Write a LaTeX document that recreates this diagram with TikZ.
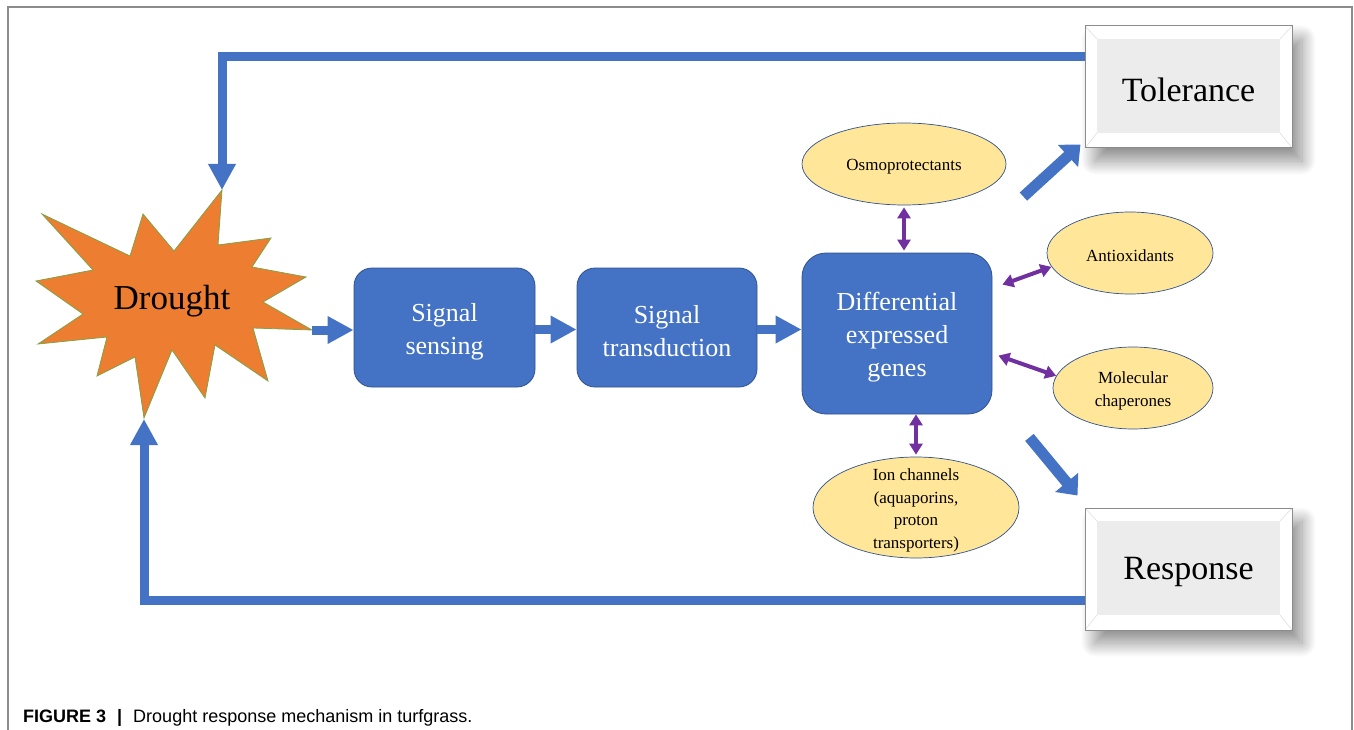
\documentclass[tikz,border=0pt]{standalone}
\usepackage{fontspec}
\setmainfont{Liberation Serif}
\newfontfamily\capfont{Liberation Sans}
\usetikzlibrary{arrows.meta,shadows.blur,calc,shapes.geometric}
\definecolor{dblue}{HTML}{4472C4}
\definecolor{dborder}{HTML}{2F528F}
\definecolor{dorange}{HTML}{ED7D31}
\definecolor{dgreen}{HTML}{7FA347}
\definecolor{dyellow}{HTML}{FFE699}
\definecolor{dpurple}{HTML}{7030A0}
\definecolor{dgray}{HTML}{ECECEC}
\definecolor{frame}{HTML}{8C8C8C}
\begin{document}
\begin{tikzpicture}[x=1pt,y=-1pt,
  box/.style={rounded corners=18pt, fill=dblue, draw=dborder, line width=0.8pt, inner sep=0pt},
  boxtext/.style={text=white, font=\fontsize{26}{33}\selectfont, align=center, yshift=-4pt},
  ell/.style={ellipse, fill=dyellow, draw=dborder, line width=0.7pt, inner sep=0pt},
  elltext/.style={font=\fontsize{17}{22.5}\selectfont, align=center, yshift=-3pt},
  blockarrow/.style={draw=dblue, line width=9pt, line join=miter,
    -{Triangle[width=26pt,length=26pt]}},
  diagarrow/.style={draw=dblue, line width=11pt,
    -{Triangle[width=29pt,length=17pt]}},
  dbl/.style={draw=dpurple, line width=4pt,
    {Triangle[width=13pt,length=11pt]}-{Triangle[width=13pt,length=11pt]}},
  bevelbox/.style={draw=frame, fill=white, line width=1pt, inner sep=0pt,
    minimum width=207pt, minimum height=122pt,
    blur shadow={shadow xshift=10pt, shadow yshift=-13pt, shadow blur radius=14pt,
      shadow blur steps=30, shadow opacity=45},
    path picture={
      \coordinate (pnw) at (path picture bounding box.north west);
      \coordinate (pse) at (path picture bounding box.south east);
      \coordinate (pne) at (path picture bounding box.north east);
      \coordinate (psw) at (path picture bounding box.south west);
      \fill[dgray] ($(pnw)+(12,13)$) rectangle ($(pse)+(-12,-15)$);
      \draw[black!12, line width=0.6pt] (pnw) -- ($(pnw)+(12,13)$)
        (pne) -- ($(pne)+(-12,13)$) (pse) -- ($(pse)+(-12,-15)$) (psw) -- ($(psw)+(12,-15)$);
    }},
  beveltext/.style={font=\fontsize{34}{40}\selectfont, yshift=-3pt},
]
\useasboundingbox (0,0) rectangle (1354,730);
\draw[frame, line width=1.2pt] (8,730) -- (8,7) -- (1352,7) -- (1352,730);

% Drought star
\fill[dorange, draw=dgreen, line width=0.8pt, line join=miter]
  (42,214) -- (130,256) -- (143,214) -- (174,251) -- (222,190) -- (218,245)
  -- (271,238) -- (252,267) -- (306,277) -- (263,302) -- (312,330) -- (253,328)
  -- (268,381) -- (215,345) -- (205,398) -- (172,350) -- (144,418) -- (135,357)
  -- (97,376) -- (107,337) -- (38,344) -- (83,314) -- (36,281) -- (93,270) -- cycle;
\coordinate (dtop) at (222,190);
\coordinate (dright) at (312,330);
\coordinate (dbot) at (144,419);
\node[font=\fontsize{35}{40}\selectfont] (drought) at (172,301) {Drought};

% main boxes
\node[box, minimum width=181pt, minimum height=119pt,
  label={[boxtext]center:Signal\\sensing}] (sense) at (444.5,327.5) {};
\node[box, minimum width=180pt, minimum height=119pt,
  label={[boxtext]center:Signal\\transduction}] (trans) at (667,327.5) {};
\node[box, rounded corners=24pt, minimum width=190pt, minimum height=161pt,
  label={[boxtext]center:Differential\\expressed\\genes}] (deg) at (897,333.5) {};

% ellipses
\node[ell, minimum width=204pt, minimum height=82pt,
  label={[elltext]center:Osmoprotectants}] (osmo) at (904,164) {};
\node[ell, minimum width=166pt, minimum height=82pt,
  label={[elltext]center:Antioxidants}] (antiox) at (1130,253) {};
\node[ell, minimum width=160pt, minimum height=82pt,
  label={[elltext]center:Molecular\\chaperones}] (mol) at (1133,388) {};
\node[ell, minimum width=206pt, minimum height=101pt,
  label={[elltext]center:Ion channels\\(aquaporins,\\proton\\transporters)}] (ion) at (916,507.5) {};

% result boxes
\node[bevelbox, label={[beveltext]center:Tolerance}] (tol) at (1188.5,87) {};
\node[bevelbox, label={[beveltext]center:Response}] (resp) at (1188.5,569) {};

% flow arrows
\draw[blockarrow] (dright) -- (dright -| sense.west);
\draw[blockarrow] (sense.east) ++(0,2) -- ($(trans.west)+(0,2)$);
\draw[blockarrow] (trans.east) ++(0,2) -- ($(trans.east -| deg.west)+(0,2)$);

% feedback
\draw[blockarrow] ($(tol.north west)+(0,31)$) -| (dtop);
\draw[blockarrow] ($(resp.south west)+(0,-30)$) -| (dbot);

% diagonal arrows
\draw[diagarrow] ($(deg.north east)+(31,-56)$) -- ($(tol.south west)+(-4,-4)$);
\draw[diagarrow] ($(deg.south east)+(37,23)$) -- ($(resp.north west)+(-7,-12)$);

% purple double arrows
\draw[dbl, shorten <=2pt, shorten >=2pt] (osmo.south) -- (osmo.south |- deg.north);
\draw[dbl, shorten >=2pt] (deg.south -| ion.north) -- (ion.north);
\draw[dbl] ($(deg.north east)+(10,32)$) -- (antiox.190);
\draw[dbl] ($(deg.north east)+(6,103)$) -- (mol.171);

% caption
\node[anchor=base west, inner sep=0pt, font=\capfont\fontsize{18}{22}\selectfont] (cap) at (23,722)
  {\textbf{FIGURE 3}\hspace{11pt}\textbf{|}\hspace{11pt}Drought response mechanism in turfgrass.};
\end{tikzpicture}
\end{document}
